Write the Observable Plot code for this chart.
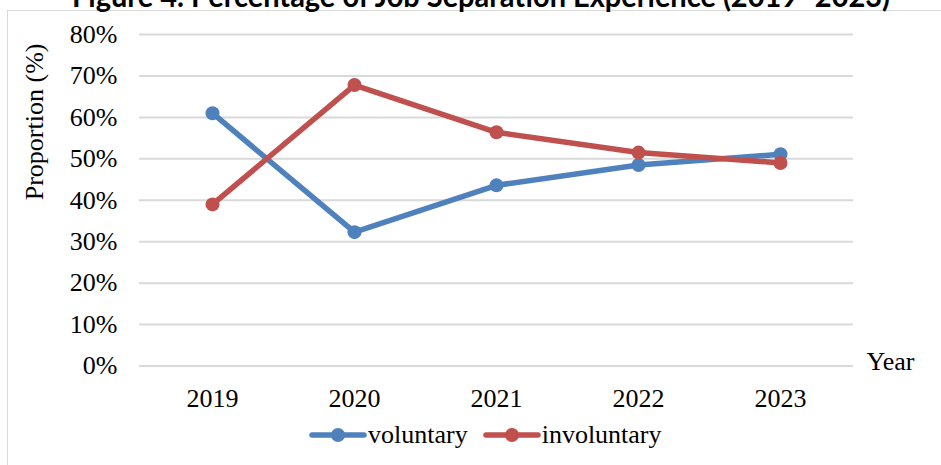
<!DOCTYPE html>
<html><head><meta charset="utf-8">
<script src="https://cdn.jsdelivr.net/npm/d3@7"></script>
<script src="https://cdn.jsdelivr.net/npm/@observablehq/plot@0.6"></script>
<style>
body{margin:0;background:#fff;overflow:hidden}
#wrap{position:relative;width:941px;height:465px;overflow:hidden;background:#fff}
#frame{position:absolute;left:7px;top:10px;width:960px;height:470px;border:1.5px solid #d9d9d9;box-sizing:border-box}
#title{position:absolute;left:0;top:0}
#chart{position:absolute;left:0;top:0}
#legend{position:absolute;top:420px;left:309px;font-family:"Liberation Serif","Times New Roman",serif;font-size:26px;display:flex;align-items:center;line-height:30px}
#legend > span{display:flex;align-items:center;margin-right:15px}
</style></head>
<body><div id="wrap"><div id="frame"></div><div id="chart"></div>
<svg id="title" width="941" height="20"><text x="481" y="7" text-anchor="middle" textLength="818" lengthAdjust="spacingAndGlyphs" font-family="Lato, Carlito, 'Open Sans', sans-serif" font-weight="bold" font-size="31">Figure 4. Percentage of Job Separation Experience (2019–2023)</text></svg>
<div id="legend"></div></div>
<script>
const years = ["2019","2020","2021","2022","2023"];
const voluntary = [61, 32.3, 43.6, 48.5, 51.1];
const involuntary = [39, 67.8, 56.4, 51.5, 49];
const seriesNames = ["voluntary","involuntary"];
const colors = ["#4F81BD","#C0504D"];
const yTicks = [0,10,20,30,40,50,60,70,80];

const data = [];
years.forEach((y,i)=>{
  data.push({year:y, value:voluntary[i], series:"voluntary"});
  data.push({year:y, value:involuntary[i], series:"involuntary"});
});

const font = "Liberation Serif, Times New Roman, serif";
const plot = Plot.plot({
  width: 941, height: 465,
  marginLeft: 139, marginRight: 88, marginTop: 34, marginBottom: 99.5,
  style: {fontFamily: font, fontSize: "26px", color: "#000", background: "transparent"},
  x: {type: "point", domain: years, padding: 0.5, label: null},
  y: {domain: [0, 80], ticks: yTicks, label: null},
  color: {domain: seriesNames, range: colors},
  marks: [
    Plot.gridY(yTicks, {stroke: "#d9d9d9", strokeOpacity: 1, strokeWidth: 2}),
    Plot.axisY(yTicks, {tickSize: 0, tickPadding: 22, tickFormat: d => d + "%", fontSize: 26}),
    Plot.axisX(years, {tickSize: 0, tickPadding: 23, fontSize: 26}),
    Plot.line(data, {x: "year", y: "value", z: "series", stroke: "series", strokeWidth: 5.5, strokeLinejoin: "round"}),
    Plot.dot(data, {x: "year", y: "value", fill: "series", r: 7}),
    Plot.text(["Proportion (%)"], {frameAnchor: "left", dx: -105, rotate: -90, fontSize: 26}),
    Plot.text(["Year"], {frameAnchor: "bottom-right", dx: 13, dy: 4, textAnchor: "start", fontSize: 26})
  ]
});
document.getElementById("chart").appendChild(plot);

const legend = document.getElementById("legend");
seriesNames.forEach((n,i)=>{
  const s = document.createElement("span");
  s.innerHTML = `<svg width="58" height="16"><line x1="3" y1="8" x2="55" y2="8" stroke="${colors[i]}" stroke-width="5.5" stroke-linecap="round"/><circle cx="29" cy="8" r="7" fill="${colors[i]}"/></svg><span style="margin-left:1px">${n}</span>`;
  legend.appendChild(s);
});
</script>
</body></html>
